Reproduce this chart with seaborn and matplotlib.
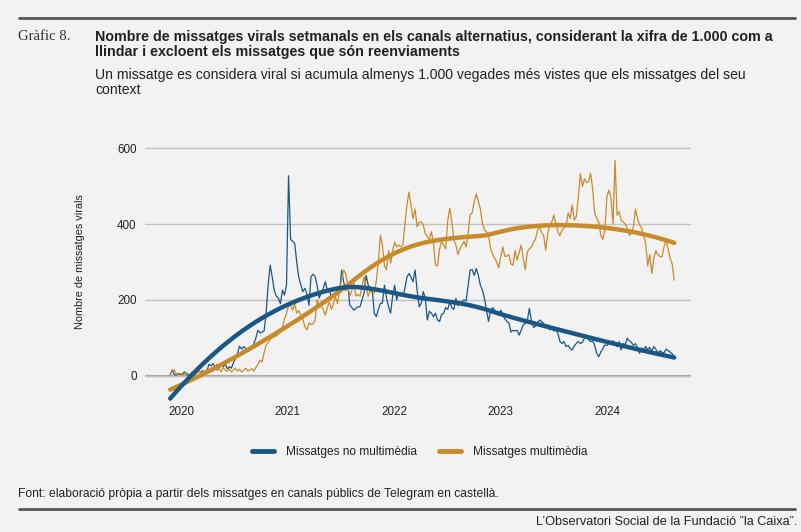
import numpy as np
import pandas as pd
import matplotlib
matplotlib.use("Agg")
import matplotlib.pyplot as plt
from matplotlib.lines import Line2D
import seaborn as sns

# Dades setmanals (llegides del gràfic)
start_date = "2019-11-25"

no_multimedia = [
    3, 15, 3, 2, 6, 3, 5, 10, 3, 2,
    2, 4, 2, 8, 12, 9, 14, 10, 13, 30,
    26, 32, 22, 30, 20, 33, 24, 30, 18, 24,
    20, 35, 45, 60, 78, 70, 77, 72, 68, 70,
    75, 85, 100, 120, 113, 115, 118, 165, 240, 292,
    260, 225, 210, 205, 190, 226, 213, 240, 528, 360,
    355, 350, 300, 260, 240, 222, 231, 215, 186, 261,
    268, 262, 239, 205, 218, 230, 248, 226, 228, 205,
    215, 210, 215, 220, 279, 248, 225, 245, 186, 180,
    173, 178, 182, 182, 200, 218, 265, 240, 231, 228,
    165, 156, 175, 191, 192, 239, 205, 182, 165, 210,
    239, 200, 220, 215, 210, 230, 260, 270, 260, 248,
    279, 226, 182, 190, 222, 205, 147, 170, 165, 156,
    165, 147, 143, 162, 165, 180, 175, 195, 180, 175,
    204, 185, 190, 195, 200, 197, 239, 279, 280, 265,
    283, 265, 239, 226, 205, 173, 143, 173, 180, 173,
    165, 160, 173, 160, 150, 143, 140, 115, 120, 118,
    120, 107, 120, 134, 138, 145, 178, 145, 128, 130,
    140, 147, 143, 138, 132, 134, 121, 128, 118, 120,
    112, 90, 85, 90, 77, 80, 72, 68, 78, 85,
    90, 85, 88, 99, 103, 95, 90, 92, 80, 59,
    50, 62, 72, 81, 80, 85, 88, 92, 85, 77,
    90, 68, 85, 82, 99, 92, 88, 80, 85, 73,
    59, 73, 68, 77, 68, 75, 65, 77, 70, 59,
    66, 62, 60, 70, 66, 62, 58, 50,
]

multimedia = [
    2, 12, 15, 5, 3, 6, 2, 4, 8, 3,
    5, 10, 3, 6, 12, 8, 15, 5, 18, 10,
    20, 12, 24, 14, 18, 10, 22, 15, 12, 18,
    10, 15, 20, 12, 17, 10, 14, 20, 12, 15,
    18, 12, 22, 30, 41, 36, 60, 81, 88, 95,
    100, 103, 105, 110, 120, 129, 150, 165, 185, 185,
    173, 191, 165, 172, 160, 150, 129, 121, 139, 135,
    137, 145, 200, 185, 182, 175, 160, 180, 195, 175,
    190, 208, 190, 226, 255, 279, 270, 240, 210, 225,
    244, 210, 215, 210, 235, 261, 235, 210, 225, 218,
    218, 250, 300, 371, 345, 290, 280, 330, 297, 330,
    353, 340, 345, 340, 345, 400, 450, 485, 450, 415,
    440, 393, 405, 406, 398, 375, 367, 360, 380, 350,
    292, 290, 335, 355, 345, 335, 410, 442, 406, 360,
    345, 320, 335, 345, 355, 340, 375, 425, 430, 460,
    480, 460, 440, 403, 385, 380, 375, 335, 320, 310,
    300, 285, 314, 340, 315, 316, 320, 295, 292, 330,
    305, 325, 345, 310, 280, 327, 335, 340, 353, 360,
    384, 393, 378, 370, 332, 375, 398, 406, 424, 400,
    380, 370, 385, 390, 395, 430, 415, 451, 411, 420,
    470, 534, 499, 520, 510, 512, 534, 495, 430, 415,
    406, 371, 360, 384, 472, 490, 470, 400, 569, 424,
    433, 411, 406, 400, 390, 371, 375, 393, 440, 415,
    398, 390, 370, 350, 290, 320, 270, 310, 330, 320,
    315, 314, 340, 360, 335, 310, 295, 252,
]

year_ticks = [0, 1, 2, 3, 4]
year_labels = ["2020", "2021", "2022", "2023", "2024"]
y_ticks = [0, 200, 400, 600]

series_names = ["Missatges no multimèdia", "Missatges multimèdia"]
blue = "#1b5784"
orange = "#c98a2b"


def loess(x, y, xs, span=0.75):
    # suavitzat local de grau 2 amb pesos tricubs (com el loess per defecte)
    x = np.asarray(x, float)
    y = np.asarray(y, float)
    q = int(np.floor(len(x) * span))
    out = []
    for x0 in xs:
        d = np.abs(x - x0)
        h = np.sort(d)[q - 1]
        w = np.clip(1 - (d / h) ** 3, 0, None) ** 3
        X = np.vstack([np.ones_like(x), x - x0, (x - x0) ** 2]).T
        sw = np.sqrt(w)
        coef = np.linalg.lstsq(X * sw[:, None], y * sw, rcond=None)[0]
        out.append(coef[0])
    return np.array(out)


dates = pd.date_range(start_date, periods=len(no_multimedia), freq="7D")
t = (dates - pd.Timestamp("2020-01-01")).days / 365.25

df = pd.DataFrame({"t": t, "no_mm": no_multimedia, "mm": multimedia})

grid = np.linspace(t.min(), t.max(), 120)
trend = pd.DataFrame({"t": grid,
                      "no_mm": loess(t, no_multimedia, grid),
                      "mm": loess(t, multimedia, grid)})

sns.set_theme(style="white")
plt.rcParams["font.family"] = ["Liberation Sans", "DejaVu Sans"]

bg = "#f2f2f2"
fig = plt.figure(figsize=(8.01, 5.32), dpi=100, facecolor=bg)
ax = fig.add_axes([145 / 801, 129.8 / 532, (691 - 145) / 801, 261.3 / 532])
ax.set_facecolor(bg)

# series setmanals
sns.lineplot(data=df, x="t", y="no_mm", color=blue, lw=0.9, ax=ax)
sns.lineplot(data=df, x="t", y="mm", color=orange, lw=0.9, ax=ax)

# tendencies
sns.lineplot(data=trend, x="t", y="mm", color=orange, lw=3.2, ax=ax)
sns.lineplot(data=trend, x="t", y="no_mm", color=blue, lw=3.2, ax=ax)

ax.set_xlim(-0.338, 4.79)
ax.set_ylim(-70, 620)
ax.set_yticks(y_ticks)
ax.set_yticklabels([str(v) for v in y_ticks])
ax.set_xticks(year_ticks)
ax.set_xticklabels(year_labels)
ax.tick_params(axis="both", length=0, labelsize=8.4, colors="#222222")
ax.tick_params(axis="y", pad=6)
ax.tick_params(axis="x", pad=3)
ax.yaxis.grid(True, color="#c2c2c2", lw=1)
ax.set_axisbelow(True)
ax.axhline(0, color="#a6a6a6", lw=1.6, zorder=0.5)
for s in ax.spines.values():
    s.set_visible(False)

ax.set_xlabel("")
ax.set_ylabel("Nombre de missatges virals", fontsize=7.8, color="#222222")
ax.yaxis.set_label_coords(-0.11, 0.537)

# llegenda
handles = [Line2D([0], [0], color=blue, lw=3.5, solid_capstyle="round"),
           Line2D([0], [0], color=orange, lw=3.5, solid_capstyle="round")]
fig.legend(handles, series_names, loc="center", bbox_to_anchor=(0.524, 1 - 452 / 532),
           ncol=2, frameon=False, fontsize=8.6, handlelength=1.9, columnspacing=1.8,
           handletextpad=1.0, labelcolor="#222222")

# capçalera
fig.add_artist(Line2D([19 / 801, 795 / 801], [1 - 18 / 532, 1 - 18 / 532],
                      color="#555555", lw=2))
fig.text(18 / 801, 1 - 37 / 532, "Gràfic 8.", family="Liberation Serif",
         fontsize=10.6, color="#333333", va="center")
fig.text(95 / 801, 1 - 37 / 532,
         "Nombre de missatges virals setmanals en els canals alternatius, considerant la xifra de 1.000 com a",
         fontsize=10.3, fontweight="bold", color="#222222", va="center")
fig.text(95 / 801, 1 - 52 / 532, "llindar i excloent els missatges que són reenviaments",
         fontsize=10.3, fontweight="bold", color="#222222", va="center")
fig.text(95 / 801, 1 - 75 / 532,
         "Un missatge es considera viral si acumula almenys 1.000 vegades més vistes que els missatges del seu",
         fontsize=10.1, color="#222222", va="center")
fig.text(95 / 801, 1 - 90 / 532, "context", fontsize=10.1, color="#222222", va="center")

# peu
fig.text(18 / 801, 1 - 494 / 532,
         "Font: elaboració pròpia a partir dels missatges en canals públics de Telegram en castellà.",
         fontsize=8.7, color="#222222", va="center")
fig.add_artist(Line2D([19 / 801, 795 / 801], [1 - 509 / 532, 1 - 509 / 532],
                      color="#555555", lw=2))
fig.text(797 / 801, 1 - 522 / 532, "L’Observatori Social de la Fundació ”la Caixa”.",
         fontsize=9.2, color="#222222", va="center", ha="right")

fig.savefig("out.png", dpi=100, facecolor=bg)
